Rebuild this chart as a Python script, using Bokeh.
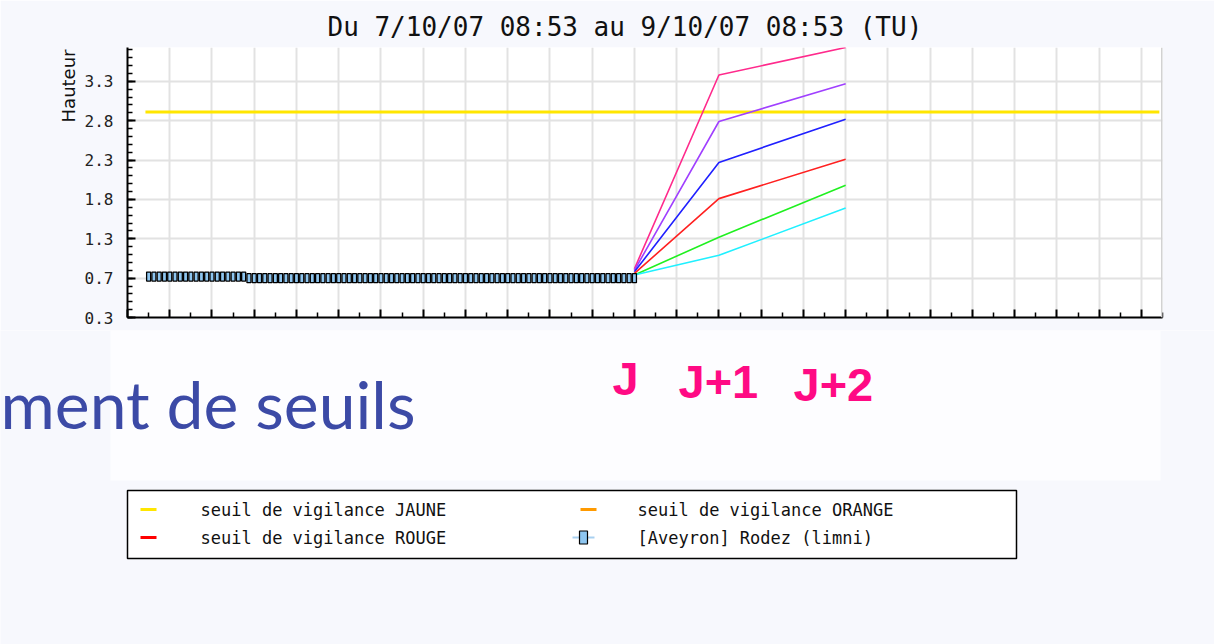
import numpy as np
from bokeh.plotting import figure
from bokeh.layouts import column
from bokeh.models import Range1d, FixedTicker, Span, Title
from bokeh.embed import file_html
from bokeh.resources import INLINE
from bokeh.core.properties import value

# ---------------- data ----------------
title_text = "Du 7/10/07 08:53 au 9/10/07 08:53 (TU)"
y_label = "Hauteur"
y_tick_values = [0.25, 0.75, 1.25, 1.75, 2.25, 2.75, 3.25]
y_tick_labels = ["0.3", "0.7", "1.3", "1.8", "2.3", "2.8", "3.3"]
x_tick_hours = list(range(0, 49, 2))

# observed water level, hours since 7/10/07 08:53, 15-minute sampling
obs_hours = np.arange(1.0, 24.0001, 0.25)
obs_height = [
    0.77, 0.77, 0.77, 0.77, 0.77, 0.77, 0.77, 0.77, 0.77, 0.77,
    0.77, 0.77, 0.77, 0.77, 0.77, 0.77, 0.77, 0.77, 0.77,
    0.75, 0.75, 0.75, 0.75, 0.75, 0.75, 0.75, 0.75, 0.75, 0.75,
    0.75, 0.75, 0.75, 0.75, 0.75, 0.75, 0.75, 0.75, 0.75, 0.75,
    0.75, 0.75, 0.75, 0.75, 0.75, 0.75, 0.75, 0.75, 0.75, 0.75,
    0.75, 0.75, 0.75, 0.75, 0.75, 0.75, 0.75, 0.75, 0.75, 0.75,
    0.75, 0.75, 0.75, 0.75, 0.75, 0.75, 0.75, 0.75, 0.75, 0.75,
    0.75, 0.75, 0.75, 0.75, 0.75, 0.75, 0.75, 0.75, 0.75, 0.75,
    0.75, 0.75, 0.75, 0.75, 0.75, 0.75, 0.75, 0.75, 0.75, 0.75,
    0.75, 0.75, 0.75, 0.75,
]

# forecast scenarios at J, J+1, J+2
fc_hours = [24, 28, 34]
fc_labels = ["J", "J+1", "J+2"]
fc_pink = [0.87, 3.33, 3.68]
fc_purple = [0.85, 2.74, 3.22]
fc_blue = [0.83, 2.22, 2.77]
fc_red = [0.81, 1.76, 2.26]
fc_green = [0.79, 1.27, 1.93]
fc_cyan = [0.79, 1.04, 1.64]

# yellow vigilance threshold
jaune_hours = [0.85, 48.85]
jaune_height = [2.86, 2.86]

legend_labels = ["seuil de vigilance JAUNE", "seuil de vigilance ORANGE",
                 "seuil de vigilance ROUGE", "[Aveyron] Rodez (limni)"]
subtitle_text = "ment de seuils"

BG = "#f7f8fd"

# ---------------- chart ----------------
p1 = figure(width=1214, height=330, x_range=Range1d(0, 49), y_range=Range1d(0.25, 3.68),
            output_backend="svg", toolbar_location=None,
            min_border_left=127, min_border_right=52, min_border_top=47, min_border_bottom=13,
            background_fill_color="white", border_fill_color=BG, outline_line_color=None)
p1.frame_align = False

p1.title.text = title_text
p1.title.align = "left"
p1.title.offset = 200
p1.title.text_font = "DejaVu Sans Mono"
p1.title.text_font_size = "26px"
p1.title.text_font_style = "normal"
p1.title.text_color = "#111111"
p1.title.standoff = 12

p1.add_layout(Title(text=y_label, align="right", offset=2, text_font="DejaVu Sans",
                    text_font_size="18px", text_font_style="normal",
                    text_color="#111111", standoff=6), "left")

p1.xaxis.ticker = FixedTicker(ticks=x_tick_hours, minor_ticks=list(range(1, 50, 2)))
p1.xaxis.major_label_overrides = {t: "" for t in x_tick_hours}
p1.yaxis.ticker = FixedTicker(ticks=y_tick_values,
                              minor_ticks=[round(0.25 + 0.1 * i, 2) for i in range(35)])
p1.yaxis.major_label_overrides = dict(zip(y_tick_values, y_tick_labels))

for ax in (p1.xaxis[0], p1.yaxis[0]):
    ax.axis_line_color = "black"
    ax.axis_line_width = 2
    ax.major_tick_in = 8
    ax.major_tick_out = 0
    ax.minor_tick_in = 5
    ax.minor_tick_out = 0
    ax.major_tick_line_color = "black"
    ax.major_tick_line_width = 2
    ax.minor_tick_line_color = "black"
    ax.minor_tick_line_width = 1.5

p1.xaxis.major_label_standoff = 0
p1.yaxis.major_label_text_font = "DejaVu Sans Mono"
p1.yaxis.major_label_text_font_size = "16px"
p1.yaxis.major_label_text_color = "#222222"
p1.yaxis.major_label_standoff = 14

p1.xgrid.grid_line_color = "#e2e2e2"
p1.xgrid.grid_line_width = 2
p1.ygrid.grid_line_color = "#e2e2e2"
p1.ygrid.grid_line_width = 2

p1.add_layout(Span(location=49, dimension="height", line_color="#d2d2d2", line_width=3))

p1.line(jaune_hours, jaune_height, line_color="#ffe600", line_width=3)

for vals, col in [(fc_pink, "#ff2a8c"), (fc_purple, "#a040ff"), (fc_blue, "#2020ff"),
                  (fc_red, "#ff2020"), (fc_green, "#20f020"), (fc_cyan, "#20f0ff")]:
    p1.line(fc_hours, vals, line_color=col, line_width=1.6)

p1.rect(x=obs_hours, y=obs_height, width=0.19, height=9, height_units="screen",
        fill_color="#8ec6f0", line_color="black", line_width=1.3)

# ---------------- lower part (J labels, slide text, legend) ----------------
p2 = figure(width=1214, height=314, x_range=Range1d(0, 1214), y_range=Range1d(644, 330),
            output_backend="svg", toolbar_location=None, min_border=0,
            x_axis_type=None, y_axis_type=None,
            background_fill_color=BG, border_fill_color=BG, outline_line_color=None)
p2.frame_align = False
p2.grid.visible = False

p2.quad(left=[110], right=[1160], top=[330], bottom=[480], fill_color="#fdfdff", line_color=None)

p2.text(x=[612, 678, 793], y=[378, 381, 384], text=fc_labels, text_baseline="middle",
        text_font=value("Liberation Sans"), text_font_style="bold", text_font_size="47px",
        text_color="#ff0a84")

p2.text(x=[0], y=[403], text=[subtitle_text], text_baseline="middle",
        text_font=value("Lato"), text_font_size="66px", text_color="#3c4aa6")

# legend box
p2.quad(left=[127], right=[1016], top=[490], bottom=[558], fill_color="white",
        line_color="black", line_width=1.5)
p2.segment(x0=[140, 580, 140], y0=[509, 509, 537], x1=[156, 596, 156], y1=[509, 509, 537],
           line_color=["#ffe600", "#ff9a00", "#ff0000"], line_width=3)
p2.segment(x0=[572], y0=[537], x1=[594], y1=[537], line_color="#a8d0f0", line_width=2)
p2.rect(x=[583], y=[537], width=8, height=13, fill_color="#8ec6f0", line_color="black",
        line_width=1.2)
p2.text(x=[200, 637, 200, 637], y=[509, 509, 537, 537], text=legend_labels,
        text_baseline="middle", text_font=value("DejaVu Sans Mono"), text_font_size="17px",
        text_color="#111111")

layout = column(p1, p2, spacing=0)
open("out.html", "w").write(file_html(layout, INLINE))
